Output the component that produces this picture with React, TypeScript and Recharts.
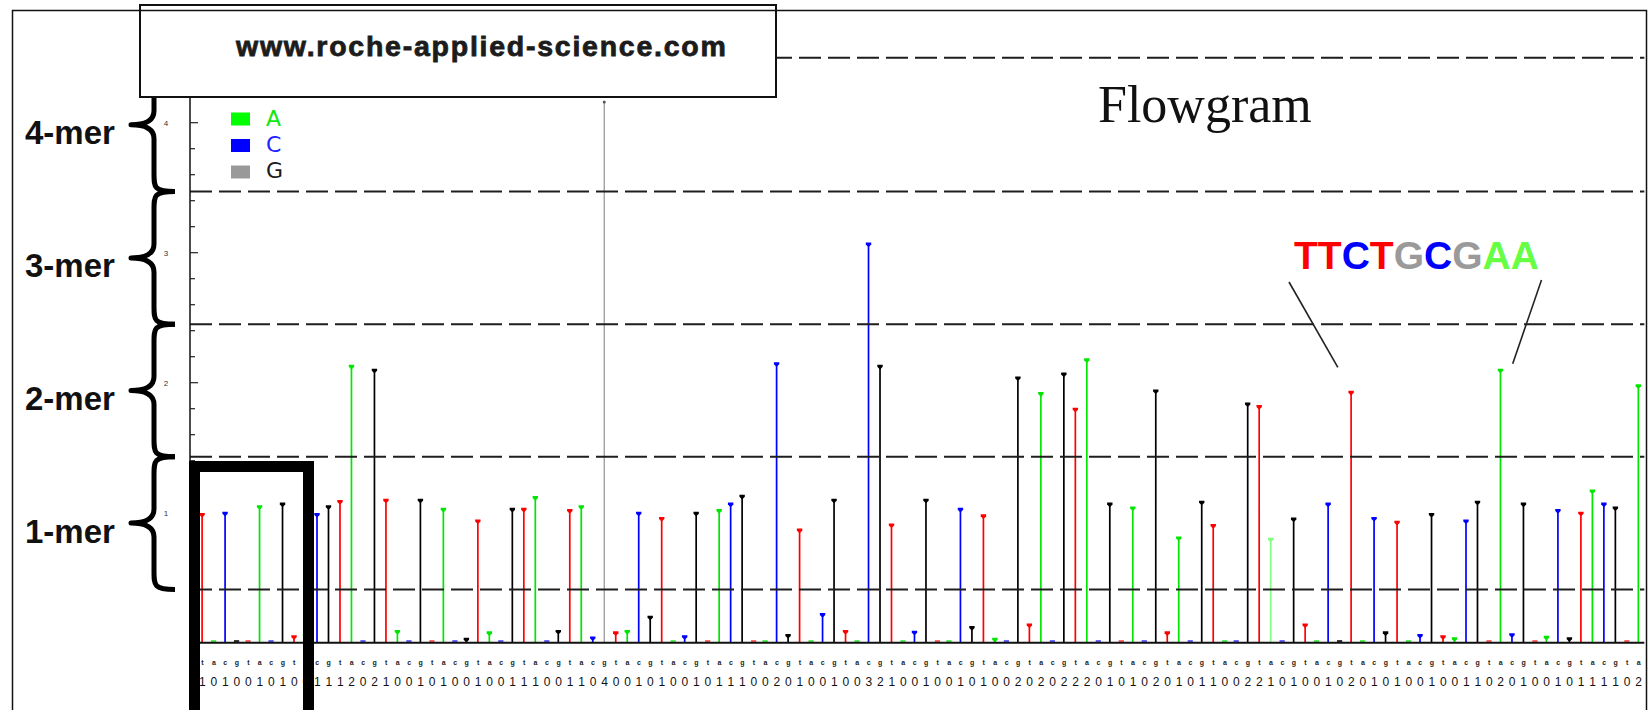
import React from 'react'
import { BarChart, Bar, XAxis, YAxis, ReferenceLine } from 'recharts'

const W = 1650
const H = 710

// plot geometry (px) — shared by the chart margins and the overlay annotations
const PLOT_LEFT = 190
const PLOT_TOP = 18.7
const PLOT_BOTTOM = 642.7
const Y_MAX = 4.8
const Y_AXIS_W = 30
const X_AXIS_H = 60
const X_PAD = 6.6
const BAND = 11.49

// flow order of the sequencer run
const FLOW_ORDER = ['T', 'A', 'C', 'G']
const FLOW_LETTERS = ['t', 'a', 'c', 'g']

// signal per flow, flows 1..126
const SIGNALS = [
  0.99, 0, 1.0, 0.01, 0, 1.05, 0, 1.07, 0.05, 0.06, 0.99, 1.05,
  1.09, 2.13, 0, 2.10, 1.1, 0.09, 0, 1.1, 0, 1.03, 0, 0.03,
  0.94, 0.08, 0, 1.03, 1.03, 1.12, 0, 0.09, 1.02, 1.05, 0.04, 4.16,
  0.08, 0.09, 1.0, 0.2, 0.96, 0.01, 0.05, 1.0, 0, 1.02, 1.07, 1.13,
  0, 0, 2.15, 0.06, 0.87, 0, 0.22, 1.1, 0.09, 0, 3.07, 2.13,
  0.91, 0, 0.085, 1.1, 0.01, 0, 1.03, 0.12, 0.98, 0.03, 0, 2.04,
  0.14, 1.92, 0, 2.07, 1.80, 2.18, 0, 1.07, 0, 1.04, 0, 1.94,
  0.08, 0.81, 0, 1.085, 0.905, 0, 0, 1.84, 1.82, 0.80, 0, 0.955,
  0.14, 0, 1.07, 0.01, 1.93, 0, 0.96, 0.08, 0.93, 0, 0.06, 0.99,
  0.05, 0.035, 0.94, 1.085, 0, 2.10, 0.065, 1.07, 0, 0.045, 1.02, 0.035,
  1.0, 1.17, 1.07, 1.04, 0, 1.98,
]

const BASE_COLORS: Record<string, string> = { T: '#ff0000', A: '#00e600', C: '#0000ff', G: '#000000' }
const ZERO_COLORS: Record<string, string> = { T: '#ff5a5a', A: '#48ee48', C: '#5a5aff', G: '#2a2a2a' }
const FLOW_COLOR_OVERRIDES: Record<number, string> = { 36: '#9a9a9a', 94: '#80ff80' }

const MER_LEVELS = [0.41, 1.43, 2.45, 3.47, 4.5]
const MER_LABELS = ['1-mer', '2-mer', '3-mer', '4-mer']

const Y_TICKS = [0, 0.2, 0.4, 0.6, 0.8, 1, 1.2, 1.4, 1.6, 1.8, 2, 2.2, 2.4, 2.6, 2.8, 3, 3.2, 3.4, 3.6, 3.8, 4, 4.2, 4.4, 4.6, 4.8]
const Y_LABELS = [1, 2, 3, 4]

const LEGEND_ITEMS = [
  { base: 'A', box: '#00ff00', text: '#10e810' },
  { base: 'C', box: '#0000ff', text: '#2222ff' },
  { base: 'G', box: '#999999', text: '#1a1a1a' },
]

const READ_LETTERS = ['T', 'T', 'C', 'T', 'G', 'C', 'G', 'A', 'A']
const READ_COLORS: Record<string, string> = { T: '#ff0000', C: '#0000ff', G: '#9a9a9a', A: '#66ff44' }
const POINTED_FLOWS = [101, 114]

const rows = SIGNALS.map((value, i) => {
  const base = FLOW_ORDER[i % 4]
  return {
    flow: i + 1,
    base,
    letter: FLOW_LETTERS[i % 4],
    value,
    called: Math.round(value),
    color: FLOW_COLOR_OVERRIDES[i + 1] ?? BASE_COLORS[base],
    zeroColor: ZERO_COLORS[base],
  }
})

const unit = (PLOT_BOTTOM - PLOT_TOP) / Y_MAX
const yPx = (v: number) => PLOT_BOTTOM - v * unit
const flowX = (flow: number) => PLOT_LEFT + X_PAD + (flow - 0.5) * BAND

function Stem(props: any) {
  const { x, y, width, height, payload } = props
  const cx = x + width / 2
  const base = y + height
  if (height < 3) {
    return <rect x={cx - 2.6} y={base - 2.6} width={5.2} height={4.2} fill={payload.zeroColor} />
  }
  const thin = payload.flow === 36
  return (
    <g>
      <line x1={cx} x2={cx} y1={y} y2={base} stroke={payload.color} strokeWidth={thin ? 1.3 : 1.7} />
      {thin
        ? <circle cx={cx} cy={y} r={1.5} fill="#555" />
        : <path d={`M${cx - 2.7},${y - 1} h5.4 v2 l-2.7,2.6 l-2.7,-2.6 z`} fill={payload.color} />}
    </g>
  )
}

function FlowTick({ x, y, payload }: any) {
  const r = rows[Number(payload.value) - 1]
  if (!r) return null
  return (
    <g>
      <text x={x} y={y + 22} fontSize={7} textAnchor="middle" fill="#222" fontWeight={700}>{r.letter}</text>
      <text x={x} y={y + 43.5} fontSize={12} textAnchor="middle" fill="#111">{r.called}</text>
    </g>
  )
}

function SignalTick({ x, y, payload }: any) {
  const v = Number(payload.value)
  const major = Y_LABELS.includes(v)
  return (
    <g>
      <line x1={x} x2={x + (major ? 8 : 5)} y1={y} y2={y} stroke="#222" strokeWidth={1.2} />
      {major && <text x={x - 24} y={y + 3} fontSize={8} textAnchor="middle" fill="#333">{v}</text>}
    </g>
  )
}

function bracePath(yTop: number, yBot: number) {
  const xb = 154, xt = 131, xe = 175
  const ym = (yTop + yBot) / 2
  return `M${xe},${yTop} C${xb},${yTop} ${xb},${yTop + 4} ${xb},${yTop + 18} L${xb},${ym - 14} ` +
    `C${xb},${ym - 4} ${xb - 8},${ym} ${xt},${ym} C${xb - 8},${ym} ${xb},${ym + 4} ${xb},${ym + 14} ` +
    `L${xb},${yBot - 18} C${xb},${yBot - 4} ${xb},${yBot} ${xe},${yBot}`
}

export default function App() {
  return (
    <div style={{ position: 'absolute', left: 0, top: 0, width: W, height: H, background: '#fff', overflow: 'hidden', fontFamily: '"Liberation Sans", Arial, sans-serif' }}>
      <BarChart
        width={W}
        height={H}
        data={rows}
        barCategoryGap={0}
        margin={{ top: PLOT_TOP, right: W - (PLOT_LEFT + X_PAD + rows.length * BAND), bottom: H - PLOT_BOTTOM - X_AXIS_H, left: PLOT_LEFT - Y_AXIS_W }}
      >
        <XAxis dataKey="flow" interval={0} height={X_AXIS_H} padding={{ left: X_PAD, right: 0 }}
          axisLine={{ stroke: '#111', strokeWidth: 2 }} tickLine={false} tickSize={0} tickMargin={0} tick={<FlowTick />} />
        <YAxis type="number" domain={[0, Y_MAX]} ticks={Y_TICKS} width={Y_AXIS_W} allowDataOverflow
          axisLine={{ stroke: '#111', strokeWidth: 1.5 }} tickLine={false} tickSize={0} tickMargin={0} tick={<SignalTick />} />
        {MER_LEVELS.map(l => (
          <ReferenceLine key={l} y={l} stroke="#1e1e1e" strokeWidth={2} strokeDasharray="22 7" />
        ))}
        <Bar dataKey="value" shape={<Stem />} isAnimationActive={false} />
      </BarChart>

      <svg width={W} height={H} style={{ position: 'absolute', left: 0, top: 0, pointerEvents: 'none' }}>
        {/* n-mer braces */}
        {MER_LABELS.map((label, i) => {
          const yBot = yPx(MER_LEVELS[i])
          const yTop = yPx(MER_LEVELS[i + 1])
          const ym = (yTop + yBot) / 2
          return (
            <g key={label}>
              <path d={bracePath(yTop, yBot)} fill="none" stroke="#000" strokeWidth={5} strokeLinejoin="round" />
              <text x={25} y={ym + 19.5} fontSize={33} fontWeight={700} fill="#111">{label}</text>
            </g>
          )
        })}

        <text x={1098} y={121.5} fontSize={52} fontFamily='"Liberation Serif", "Times New Roman", serif' fill="#111">Flowgram</text>

        {LEGEND_ITEMS.map((it, i) => (
          <g key={it.base}>
            <rect x={231} y={112.5 + i * 26.5} width={19} height={13} fill={it.box} />
            <text x={266} y={125.5 + i * 26} fontSize={22} fill={it.text} fontFamily='"DejaVu Sans", sans-serif'>{it.base}</text>
          </g>
        ))}

        <text x={1294} y={268.5} fontSize={39} fontWeight={700}>
          {READ_LETTERS.map((c, i) => <tspan key={i} fill={READ_COLORS[c]}>{c}</tspan>)}
        </text>
        <line x1={1289} y1={282} x2={flowX(POINTED_FLOWS[0]) - 13.5} y2={yPx(SIGNALS[POINTED_FLOWS[0] - 1]) - 24.5} stroke="#222" strokeWidth={1.6} />
        <line x1={1541.5} y1={280} x2={flowX(POINTED_FLOWS[1]) + 12} y2={yPx(SIGNALS[POINTED_FLOWS[1] - 1]) - 6} stroke="#222" strokeWidth={1.6} />

        {/* watermark box */}
        <rect x={140} y={5} width={636} height={92} fill="#fff" stroke="#111" strokeWidth={2} />
        <text x={236} y={56} fontSize={28.5} fontWeight={700} letterSpacing={1.75} fill="#1c1c1c" stroke="#1c1c1c" strokeWidth={0.8}>www.roche-applied-science.com</text>

        {/* highlight box around the first flows */}
        <rect x={194.5} y={466.5} width={114} height={270} fill="none" stroke="#000" strokeWidth={11} />

        {/* outer frame */}
        <rect x={12.5} y={10.5} width={1634} height={740} fill="none" stroke="#111" strokeWidth={1.5} />
      </svg>
    </div>
  )
}
